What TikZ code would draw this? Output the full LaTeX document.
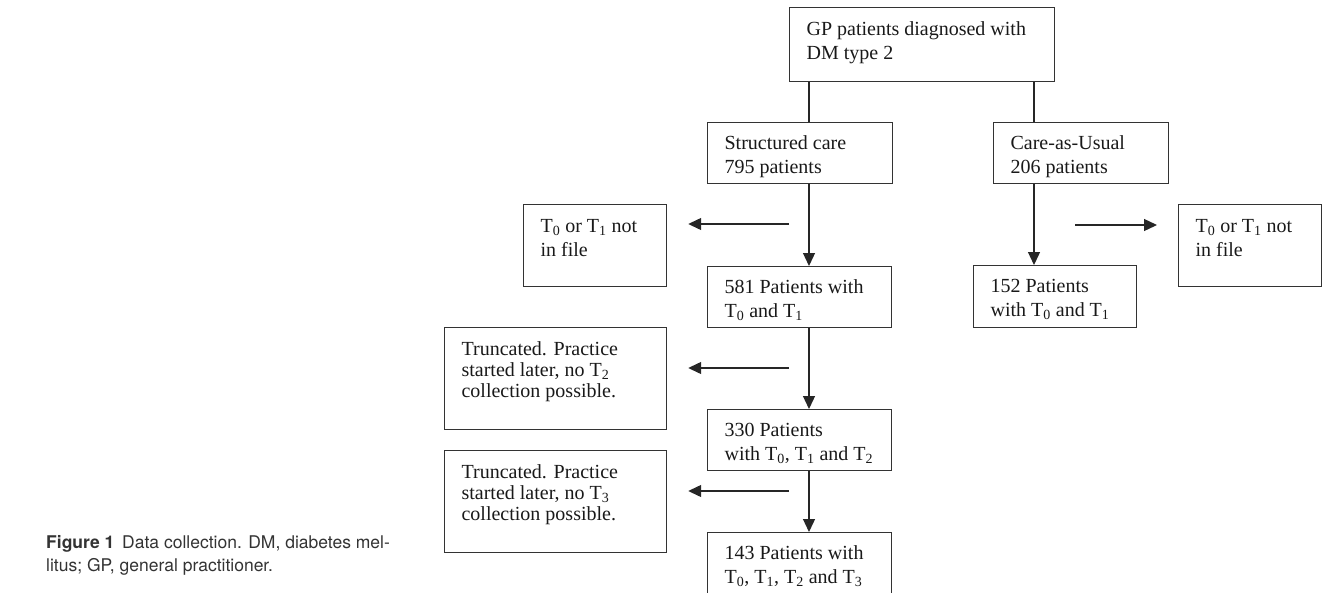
\documentclass[tikz,border=0pt]{standalone}
\usepackage{fontspec}
\setmainfont{Liberation Serif}
\newfontfamily\capfont{TeX Gyre Heros}
\usetikzlibrary{arrows.meta}
\newcommand{\bxt}[4]{\parbox[c][#2][t]{#1}{\raggedright\rule{0pt}{#3}#4}}
\newcommand{\Ts}[1]{T\textsubscript{#1}}
\tikzset{
  bx/.style={draw=black!80, line width=1.2pt, inner xsep=17pt, inner ysep=0pt, anchor=north west,
    font=\fontsize{20}{24}\selectfont, text=black!90},
  bxs/.style={bx, font=\fontsize{20}{21}\selectfont},
  ln/.style={draw=black!85, line width=1.3pt},
  arr/.style={ln, -{Triangle[length=13pt,width=12pt]}}
}
\begin{document}
\begin{tikzpicture}[x=1pt,y=-1pt]
\useasboundingbox (0,0) rectangle (1324,592);
\clip (0,0) rectangle (1324,592);
% boxes
\node[bx] (top) at (789,7) {\bxt{231pt}{74pt}{28pt}{GP patients diagnosed with\\DM type 2}};
\node[bx] (sc) at (707,122) {\bxt{151pt}{61pt}{27pt}{Structured care\\795 patients}};
\node[bx] (cau) at (993,122) {\bxt{141pt}{61pt}{27pt}{Care-as-Usual\\206 patients}};
\node[bx] (n581) at (707,266) {\bxt{150pt}{61pt}{27pt}{581 Patients with\\\Ts{0} and \Ts{1}}};
\node[bx] (n152) at (973,265) {\bxt{129pt}{62pt}{27pt}{152 Patients\\with \Ts{0} and \Ts{1}}};
\node[bx] (n330) at (707,409) {\bxt{150pt}{61pt}{27pt}{330 Patients\\with \Ts{0}, \Ts{1} and \Ts{2}}};
\node[bx] (n143) at (707,532) {\bxt{150pt}{62pt}{27pt}{143 Patients with\\\Ts{0}, \Ts{1}, \Ts{2} and \Ts{3}}};
\node[bx] (t0l) at (523,204) {\bxt{109pt}{82pt}{28pt}{\Ts{0} or \Ts{1} not\\in file}};
\node[bx] (t0r) at (1178,204) {\bxt{109pt}{82pt}{28pt}{\Ts{0} or \Ts{1} not\\in file}};
\node[bxs] (tr1) at (444,327) {\bxt{188pt}{102pt}{28pt}{Truncated. Practice\\started later, no \Ts{2}\\collection possible.}};
\node[bxs] (tr2) at (444,450) {\bxt{188pt}{102pt}{28pt}{Truncated. Practice\\started later, no \Ts{3}\\collection possible.}};
% spines
\coordinate (sp) at (809,0);
\coordinate (sq) at (1034,0);
\draw[ln] (top.south -| sp) -- (sc.north -| sp);
\draw[ln] (top.south -| sq) -- (cau.north -| sq);
\draw[arr] (sc.south -| sp) -- (n581.north -| sp);
\draw[arr] (n581.south -| sp) -- (n330.north -| sp);
\draw[arr] (n330.south -| sp) -- (n143.north -| sp);
\draw[arr] (cau.south -| sq) -- (n152.north -| sq);
% side arrows
\coordinate (h1) at (789,224);
\coordinate (h2) at (789,368);
\coordinate (h3) at (789,491);
\coordinate (h4) at (1075,225);
\draw[arr, shorten >=21pt] (h1) -- (h1 -| t0l.east);
\draw[arr, shorten >=21pt] (h2) -- (h2 -| tr1.east);
\draw[arr, shorten >=21pt] (h3) -- (h3 -| tr2.east);
\draw[arr, shorten >=21pt] (h4) -- (h4 -| t0r.west);
% caption
\node[anchor=base west, align=left, inner sep=0pt, text=black!80,
  font=\capfont\fontsize{17.5}{23}\selectfont] (cap) at (46,571)
  {\textbf{Figure 1}\hspace{0.45em}Data collection. DM, diabetes mel-\\litus; GP, general practitioner.};
\end{tikzpicture}
\end{document}
